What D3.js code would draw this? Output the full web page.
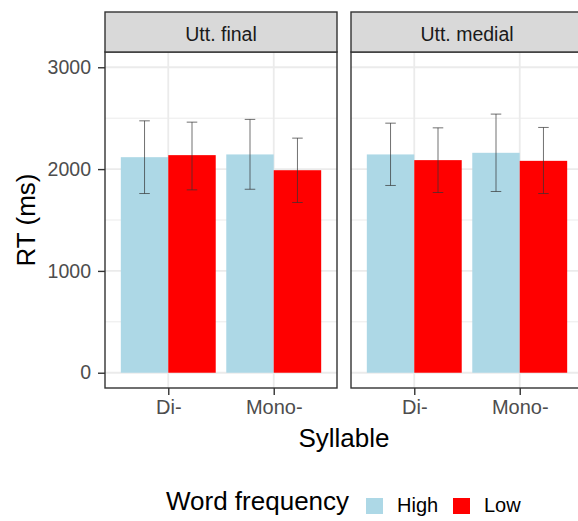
<!DOCTYPE html>
<html>
<head>
<meta charset="utf-8">
<script src="https://cdnjs.cloudflare.com/ajax/libs/d3/7.8.5/d3.min.js"></script>
<style>
	body { margin: 0; background: #fff; }
	svg { font-family: "Liberation Sans", Arial, sans-serif; display: block; }
</style>
</head>
<body>
<div id="chart"></div>
<script>
//data
const panels = ["Utt. final", "Utt. medial"];
const syllables = ["Di-", "Mono-"];
const freqs = ["High", "Low"];
const freqColors = ["#ADD8E6", "#FF0000"];
const yTicks = [0, 1000, 2000, 3000];
const yMinor = [500, 1500, 2500];

// [panel][syllable][freq]
const meanRT = [
	[[2117, 2137], [2144, 1989]],
	[[2144, 2088], [2160, 2081]]
];
const errLow = [
	[[1760, 1796], [1802, 1672]],
	[[1839, 1770], [1780, 1760]]
];
const errHigh = [
	[[2474, 2461], [2488, 2304]],
	[[2451, 2405], [2540, 2409]]
];

let W = 578, H = 521;
let panelLeft = 105, panelW = 232, panelGap = 14;
let stripTop = 12, stripH = 40;
let plotTop = stripTop + stripH, plotBottom = 388;
let tickLen = 7;

let svg = d3.select("#chart").append("svg")
	.attr("width", W)
	.attr("height", H);

let y = d3.scaleLinear().domain([-150, 3150]).range([plotBottom, plotTop]);

panels.forEach(function(pName, p) {
	let x0 = panelLeft + p * (panelW + panelGap);
	let g = svg.append("g").attr("transform", `translate(${x0},0)`);

	//discrete x scale with ggplot-style 0.6 expansion
	let x = d3.scaleLinear().domain([0.4, 2.6]).range([0, panelW]);
	let unit = x(1) - x(0);
	let barW = 0.45 * unit;

	//grid
	g.selectAll(".minor").data(yMinor).enter().append("line")
		.attr("x1", 0).attr("x2", panelW)
		.attr("y1", d => y(d)).attr("y2", d => y(d))
		.attr("stroke", "#EBEBEB").attr("stroke-width", 1);
	g.selectAll(".major").data(yTicks).enter().append("line")
		.attr("x1", 0).attr("x2", panelW)
		.attr("y1", d => y(d)).attr("y2", d => y(d))
		.attr("stroke", "#EBEBEB").attr("stroke-width", 1.8);
	g.selectAll(".vgrid").data(syllables).enter().append("line")
		.attr("x1", (d, i) => x(i + 1)).attr("x2", (d, i) => x(i + 1))
		.attr("y1", plotTop).attr("y2", plotBottom)
		.attr("stroke", "#EBEBEB").attr("stroke-width", 1.8);

	//bars
	syllables.forEach(function(s, si) {
		freqs.forEach(function(f, fi) {
			let cx = x(si + 1) + (fi - 0.5) * barW;
			g.append("rect")
				.attr("x", cx - barW / 2)
				.attr("y", y(meanRT[p][si][fi]))
				.attr("width", barW)
				.attr("height", y(0) - y(meanRT[p][si][fi]))
				.attr("fill", freqColors[fi]);
		});
	});

	//error bars
	syllables.forEach(function(s, si) {
		freqs.forEach(function(f, fi) {
			let cx = x(si + 1) + (fi - 0.5) * barW;
			let capW = 0.05 * unit;
			let eb = g.append("g")
				.attr("stroke", "#333").attr("stroke-width", 0.7);
			eb.append("line")
				.attr("x1", cx).attr("x2", cx)
				.attr("y1", y(errLow[p][si][fi])).attr("y2", y(errHigh[p][si][fi]));
			eb.append("line")
				.attr("x1", cx - capW).attr("x2", cx + capW)
				.attr("y1", y(errLow[p][si][fi])).attr("y2", y(errLow[p][si][fi]));
			eb.append("line")
				.attr("x1", cx - capW).attr("x2", cx + capW)
				.attr("y1", y(errHigh[p][si][fi])).attr("y2", y(errHigh[p][si][fi]));
		});
	});

	//panel border
	g.append("rect")
		.attr("x", 0).attr("y", plotTop)
		.attr("width", panelW).attr("height", plotBottom - plotTop)
		.attr("fill", "none").attr("stroke", "#333").attr("stroke-width", 1.4);

	//strip
	g.append("rect")
		.attr("x", 0).attr("y", stripTop)
		.attr("width", panelW).attr("height", stripH)
		.attr("fill", "#D9D9D9").attr("stroke", "#333").attr("stroke-width", 1.4);
	g.append("text")
		.attr("x", panelW / 2).attr("y", 40.5)
		.attr("text-anchor", "middle")
		.attr("font-size", 19.5)
		.attr("fill", "#1A1A1A")
		.text(pName);

	//x axis
	let xAxis = d3.scaleOrdinal().domain(syllables).range(syllables.map((d, i) => x(i + 1)));
	let ax = g.append("g")
		.attr("transform", `translate(0,${plotBottom})`)
		.call(d3.axisBottom(xAxis).tickSize(tickLen).tickPadding(5));
	ax.select(".domain").remove();
	ax.selectAll("line").attr("stroke", "#333").attr("stroke-width", 1.4);
	ax.selectAll("text").attr("font-size", 20).attr("fill", "#4D4D4D").attr("font-family", null);
});

//y axis
let yAx = svg.append("g")
	.attr("transform", `translate(${panelLeft},0)`)
	.call(d3.axisLeft(y).tickValues(yTicks).tickFormat(d3.format("d")).tickSize(tickLen).tickPadding(7));
yAx.select(".domain").remove();
yAx.selectAll("line").attr("stroke", "#333").attr("stroke-width", 1.4);
yAx.selectAll("text").attr("font-size", 19.5).attr("fill", "#4D4D4D").attr("font-family", null);

//axis titles
svg.append("text")
	.attr("transform", `translate(35,${(plotTop + plotBottom) / 2}) rotate(-90)`)
	.attr("text-anchor", "middle")
	.attr("font-size", 26)
	.text("RT (ms)");
svg.append("text")
	.attr("x", 344)
	.attr("y", 446.5)
	.attr("text-anchor", "middle")
	.attr("font-size", 26)
	.text("Syllable");

//legend
let leg = svg.append("g").attr("transform", "translate(166,510)");
leg.append("text")
	.attr("x", 0).attr("y", 0)
	.attr("font-size", 26)
	.text("Word frequency");
let keyX = [200, 287];
freqs.forEach(function(f, i) {
	leg.append("rect")
		.attr("x", keyX[i]).attr("y", -12)
		.attr("width", 17).attr("height", 16)
		.attr("fill", freqColors[i]);
	leg.append("text")
		.attr("x", keyX[i] + 31).attr("y", 1.5)
		.attr("font-size", 20)
		.text(f);
});
</script>
</body>
</html>
